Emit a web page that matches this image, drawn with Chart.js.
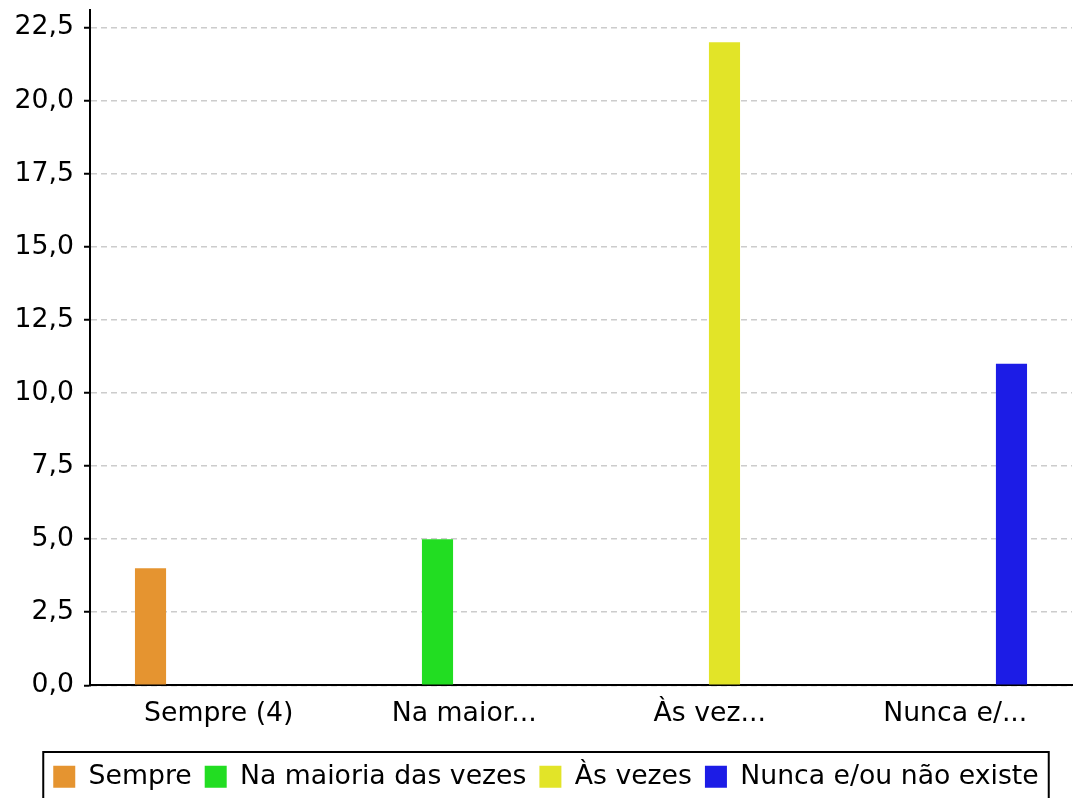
<!DOCTYPE html>
<html>
<head>
<meta charset="utf-8">
<script src="https://cdn.jsdelivr.net/npm/chart.js@4/dist/chart.umd.min.js"></script>
<style>
  html, body { margin: 0; padding: 0; background: #fff; }
  #wrap { width: 1073px; height: 798px; }
</style>
</head>
<body>
<div id="wrap"><canvas id="chart"></canvas></div>
<script>
// categorias do eixo x (rótulos truncados como no original)
const categorias = ["Sempre (4)", "Na maior...", "Às vez...", "Nunca e/..."];
// séries (uma por resposta)
const series = ["Sempre", "Na maioria das vezes", "Às vezes", "Nunca e/ou não existe"];
const valores = [4, 5, 22, 11];
const cores = ["#E59430", "#22DD22", "#E2E428", "#1C1CE6"];
const yMax = 23.1;
const yPasso = 2.5;

Chart.defaults.font.family = "'DejaVu Sans', sans-serif";
Chart.defaults.font.size = 26.7;
Chart.defaults.color = "#000";

// cada série só tem valor na sua própria categoria
const datasets = series.map((nome, i) => ({
  label: nome,
  data: categorias.map((c, j) => (j === i ? valores[i] : null)),
  backgroundColor: cores[i],
  categoryPercentage: 0.676,
  barPercentage: 0.75
}));

// legenda um pouco à direita + moldura
const legendBox = {
  id: "legendBox",
  afterLayout(chart) {
    chart.legend.left += 10;
    chart.legend.right += 10;
  },
  afterDraw(chart) {
    const hb = chart.legend.legendHitBoxes;
    if (!hb || !hb.length) return;
    const ctx = chart.ctx;
    const left = hb[0].left - 10;
    const last = hb[hb.length - 1];
    const right = last.left + last.width + 10;
    ctx.save();
    ctx.strokeStyle = "#000";
    ctx.lineWidth = 2;
    ctx.strokeRect(left, 752, right - left, 60);
    ctx.restore();
  }
};

new Chart(document.getElementById("chart"), {
  type: "bar",
  data: { labels: categorias, datasets },
  plugins: [legendBox],
  options: {
    responsive: true,
    maintainAspectRatio: false,
    animation: false,
    layout: { padding: { top: 10, right: 1, left: 0, bottom: -2 } },
    plugins: {
      legend: {
        position: "bottom",
        labels: { boxWidth: 22, boxHeight: 22, padding: 13, color: "#000" }
      },
      tooltip: { enabled: false }
    },
    scales: {
      x: {
        grid: { display: false, drawTicks: false },
        border: { color: "#000", width: 2 },
        ticks: { padding: 13, labelOffset: 6, maxRotation: 0, autoSkip: false },
        afterFit(s) { s.height = 65; }
      },
      y: {
        min: 0,
        max: yMax,
        afterFit(s) {
          s.width = 90;
          s.paddingTop = 0;
          s.paddingBottom = 0;
        },
        ticks: {
          stepSize: yPasso,
          includeBounds: false,
          padding: 10,
          callback: v => v.toFixed(1).replace(".", ",")
        },
        grid: {
          color: "#cccccc",
          lineWidth: 1.5,
          tickColor: "#000",
          tickLength: 6,
          tickWidth: 2,
          tickBorderDash: []
        },
        border: { color: "#000", width: 2, dash: [6, 4] }
      }
    }
  }
});
</script>
</body>
</html>
